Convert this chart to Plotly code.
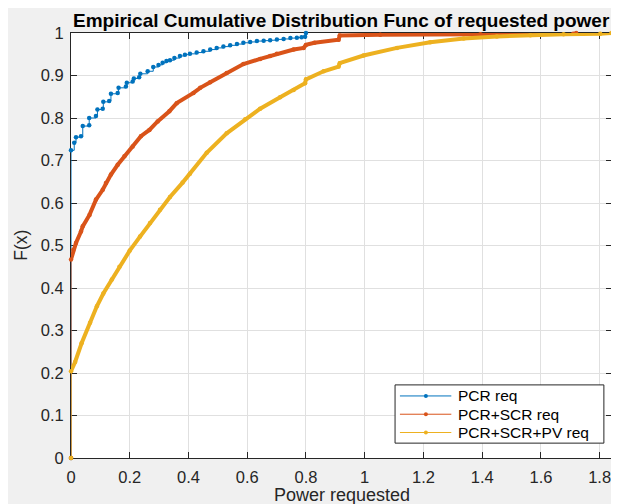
import plotly.graph_objects as go

# ---------------- data ----------------
pcr_x = [0, 0, 0.011, 0.017, 0.034, 0.040, 0.062, 0.062, 0.085, 0.090, 0.108, 0.110, 0.130,
         0.136, 0.159, 0.162, 0.187, 0.190, 0.210, 0.214, 0.232, 0.236, 0.261, 0.280, 0.298,
         0.312, 0.325, 0.337, 0.352, 0.371, 0.388, 0.405, 0.428, 0.451, 0.474, 0.496, 0.519,
         0.542, 0.565, 0.587, 0.610, 0.633, 0.656, 0.678, 0.701, 0.724, 0.747, 0.769, 0.785,
         0.797, 0.800]
pcr_y = [0, 0.724, 0.742, 0.755, 0.757, 0.781, 0.783, 0.800, 0.805, 0.820, 0.822, 0.838, 0.840,
         0.857, 0.859, 0.871, 0.874, 0.883, 0.886, 0.893, 0.896, 0.904, 0.910, 0.920, 0.925,
         0.930, 0.934, 0.936, 0.941, 0.946, 0.949, 0.951, 0.954, 0.957, 0.961, 0.965, 0.968,
         0.971, 0.974, 0.977, 0.979, 0.981, 0.982, 0.983, 0.985, 0.986, 0.988, 0.989, 0.990,
         0.991, 1.000]

scr_x = [0, 0, 0.008, 0.017, 0.034, 0.040, 0.063, 0.085, 0.108, 0.119, 0.136, 0.159, 0.182,
         0.210, 0.238, 0.267, 0.295, 0.335, 0.360, 0.417, 0.440, 0.474, 0.530, 0.587, 0.644,
         0.678, 0.701, 0.758, 0.792, 0.800, 0.829, 0.911, 0.915, 1.053, 1.394, 1.710, 1.720]
scr_y = [0, 0.467, 0.490, 0.506, 0.533, 0.545, 0.572, 0.608, 0.631, 0.647, 0.667, 0.690, 0.710,
         0.733, 0.757, 0.772, 0.792, 0.816, 0.835, 0.859, 0.871, 0.884, 0.906, 0.927, 0.939,
         0.946, 0.951, 0.961, 0.965, 0.972, 0.977, 0.984, 0.994, 0.996, 0.997, 0.998, 1.000]

pv_x = [0, 0, 0.014, 0.036, 0.065, 0.088, 0.110, 0.139, 0.165, 0.200, 0.235, 0.269, 0.303,
        0.337, 0.380, 0.405, 0.462, 0.530, 0.593, 0.644, 0.712, 0.758, 0.797, 0.800, 0.860,
        0.911, 0.915, 0.996, 1.110, 1.223, 1.337, 1.450, 1.564, 1.677, 1.802, 1.840]
pv_y = [0, 0.204, 0.226, 0.270, 0.318, 0.357, 0.387, 0.420, 0.450, 0.488, 0.521, 0.553, 0.584,
        0.614, 0.648, 0.669, 0.718, 0.764, 0.797, 0.822, 0.849, 0.866, 0.882, 0.891, 0.910,
        0.921, 0.929, 0.947, 0.965, 0.978, 0.987, 0.992, 0.995, 0.997, 0.998, 1.000]

series_names = ["PCR req", "PCR+SCR req", "PCR+SCR+PV req"]
colors = ["#0072BD", "#D95319", "#EDB120"]

x_ticks = [0, 0.2, 0.4, 0.6, 0.8, 1.0, 1.2, 1.4, 1.6, 1.8]
x_ticklabels = ["0", "0.2", "0.4", "0.6", "0.8", "1", "1.2", "1.4", "1.6", "1.8"]
y_ticks = [0, 0.1, 0.2, 0.3, 0.4, 0.5, 0.6, 0.7, 0.8, 0.9, 1.0]
y_ticklabels = ["0", "0.1", "0.2", "0.3", "0.4", "0.5", "0.6", "0.7", "0.8", "0.9", "1"]

# ---------------- figure ----------------
FONT = "Arial, Liberation Sans, Helvetica, sans-serif"
TXT = "#262626"

fig = go.Figure()

# blue: thin stairs with dot markers
fig.add_trace(go.Scatter(x=pcr_x, y=pcr_y, mode="lines+markers", name=series_names[0],
                         line=dict(color=colors[0], width=1, shape="hv"),
                         marker=dict(color=colors[0], size=4.5), cliponaxis=False))

# orange & yellow: dense markers look like thick curves
for xs, ys, nm, c in [(scr_x, scr_y, series_names[1], colors[1]),
                      (pv_x, pv_y, series_names[2], colors[2])]:
    fig.add_trace(go.Scatter(x=xs, y=ys, mode="lines+markers", name=nm,
                             line=dict(color=c, width=1),
                             marker=dict(color=c, size=4.5), cliponaxis=False))
    fig.add_trace(go.Scatter(x=xs[1:], y=ys[1:], mode="lines", showlegend=False,
                             line=dict(color=c, width=4), hoverinfo="skip",
                             cliponaxis=False))

axis_common = dict(showline=True, linecolor=TXT, linewidth=1, mirror="ticks",
                   ticks="inside", ticklen=6, tickcolor=TXT, showgrid=True,
                   gridcolor="#e0e0e0", gridwidth=1, zeroline=False,
                   tickfont=dict(family=FONT, size=16.5, color=TXT),
                   layer="below traces")

# page has an 8px body margin -> figure is offset by (8, 8)
fig.update_layout(
    width=607, height=496,
    margin=dict(l=63, r=3, t=25, b=46),
    paper_bgcolor="#f0f0f0", plot_bgcolor="#ffffff",
    showlegend=False,
    xaxis=dict(range=[0, 1.842], tickvals=x_ticks, ticktext=x_ticklabels,
               ticklabelstandoff=4, **axis_common),
    yaxis=dict(range=[0, 1], tickvals=y_ticks, ticktext=y_ticklabels,
               ticklabelstandoff=3, **axis_common),
    font=dict(family=FONT, color=TXT),
)

fig.add_annotation(text="<b>Empirical Cumulative Distribution Func of requested power</b>",
                   xref="paper", yref="paper", x=0.5, y=1.0, xanchor="center",
                   yanchor="bottom", yshift=0, showarrow=False,
                   font=dict(family=FONT, size=19, color="#000000"))
fig.add_annotation(text="Power requested", xref="paper", yref="paper", x=0.5,
                   y=-0.087, xanchor="center", yanchor="middle", showarrow=False,
                   font=dict(family=FONT, size=18, color=TXT))
fig.add_annotation(text="F(x)", xref="paper", yref="paper", x=-0.094, y=0.5,
                   xanchor="center", yanchor="middle", textangle=-90, showarrow=False,
                   font=dict(family=FONT, size=17.5, color=TXT))

# ---------------- legend box (MATLAB style) ----------------
fig.add_shape(type="rect", xref="paper", yref="paper", x0=0.599, x1=0.985,
              y0=0.035, y1=0.172, fillcolor="#ffffff",
              line=dict(color=TXT, width=1), layer="above")
legend_rows = [0.146, 0.103, 0.060]
for nm, c, yy in zip(series_names, colors, legend_rows):
    fig.add_shape(type="line", xref="paper", yref="paper", x0=0.608, x1=0.703,
                  y0=yy, y1=yy, line=dict(color=c, width=1), layer="above")
    fig.add_shape(type="circle", xref="paper", yref="paper", xsizemode="pixel",
                  ysizemode="pixel", xanchor=0.656, yanchor=yy, x0=-2, x1=2, y0=-2, y1=2,
                  fillcolor=c, line=dict(width=0), layer="above")
    fig.add_annotation(text=nm, xref="paper", yref="paper", x=0.712, y=yy,
                       xanchor="left", yanchor="middle", showarrow=False,
                       font=dict(family=FONT, size=15.5, color="#000000"))

fig.write_html("out.html")
